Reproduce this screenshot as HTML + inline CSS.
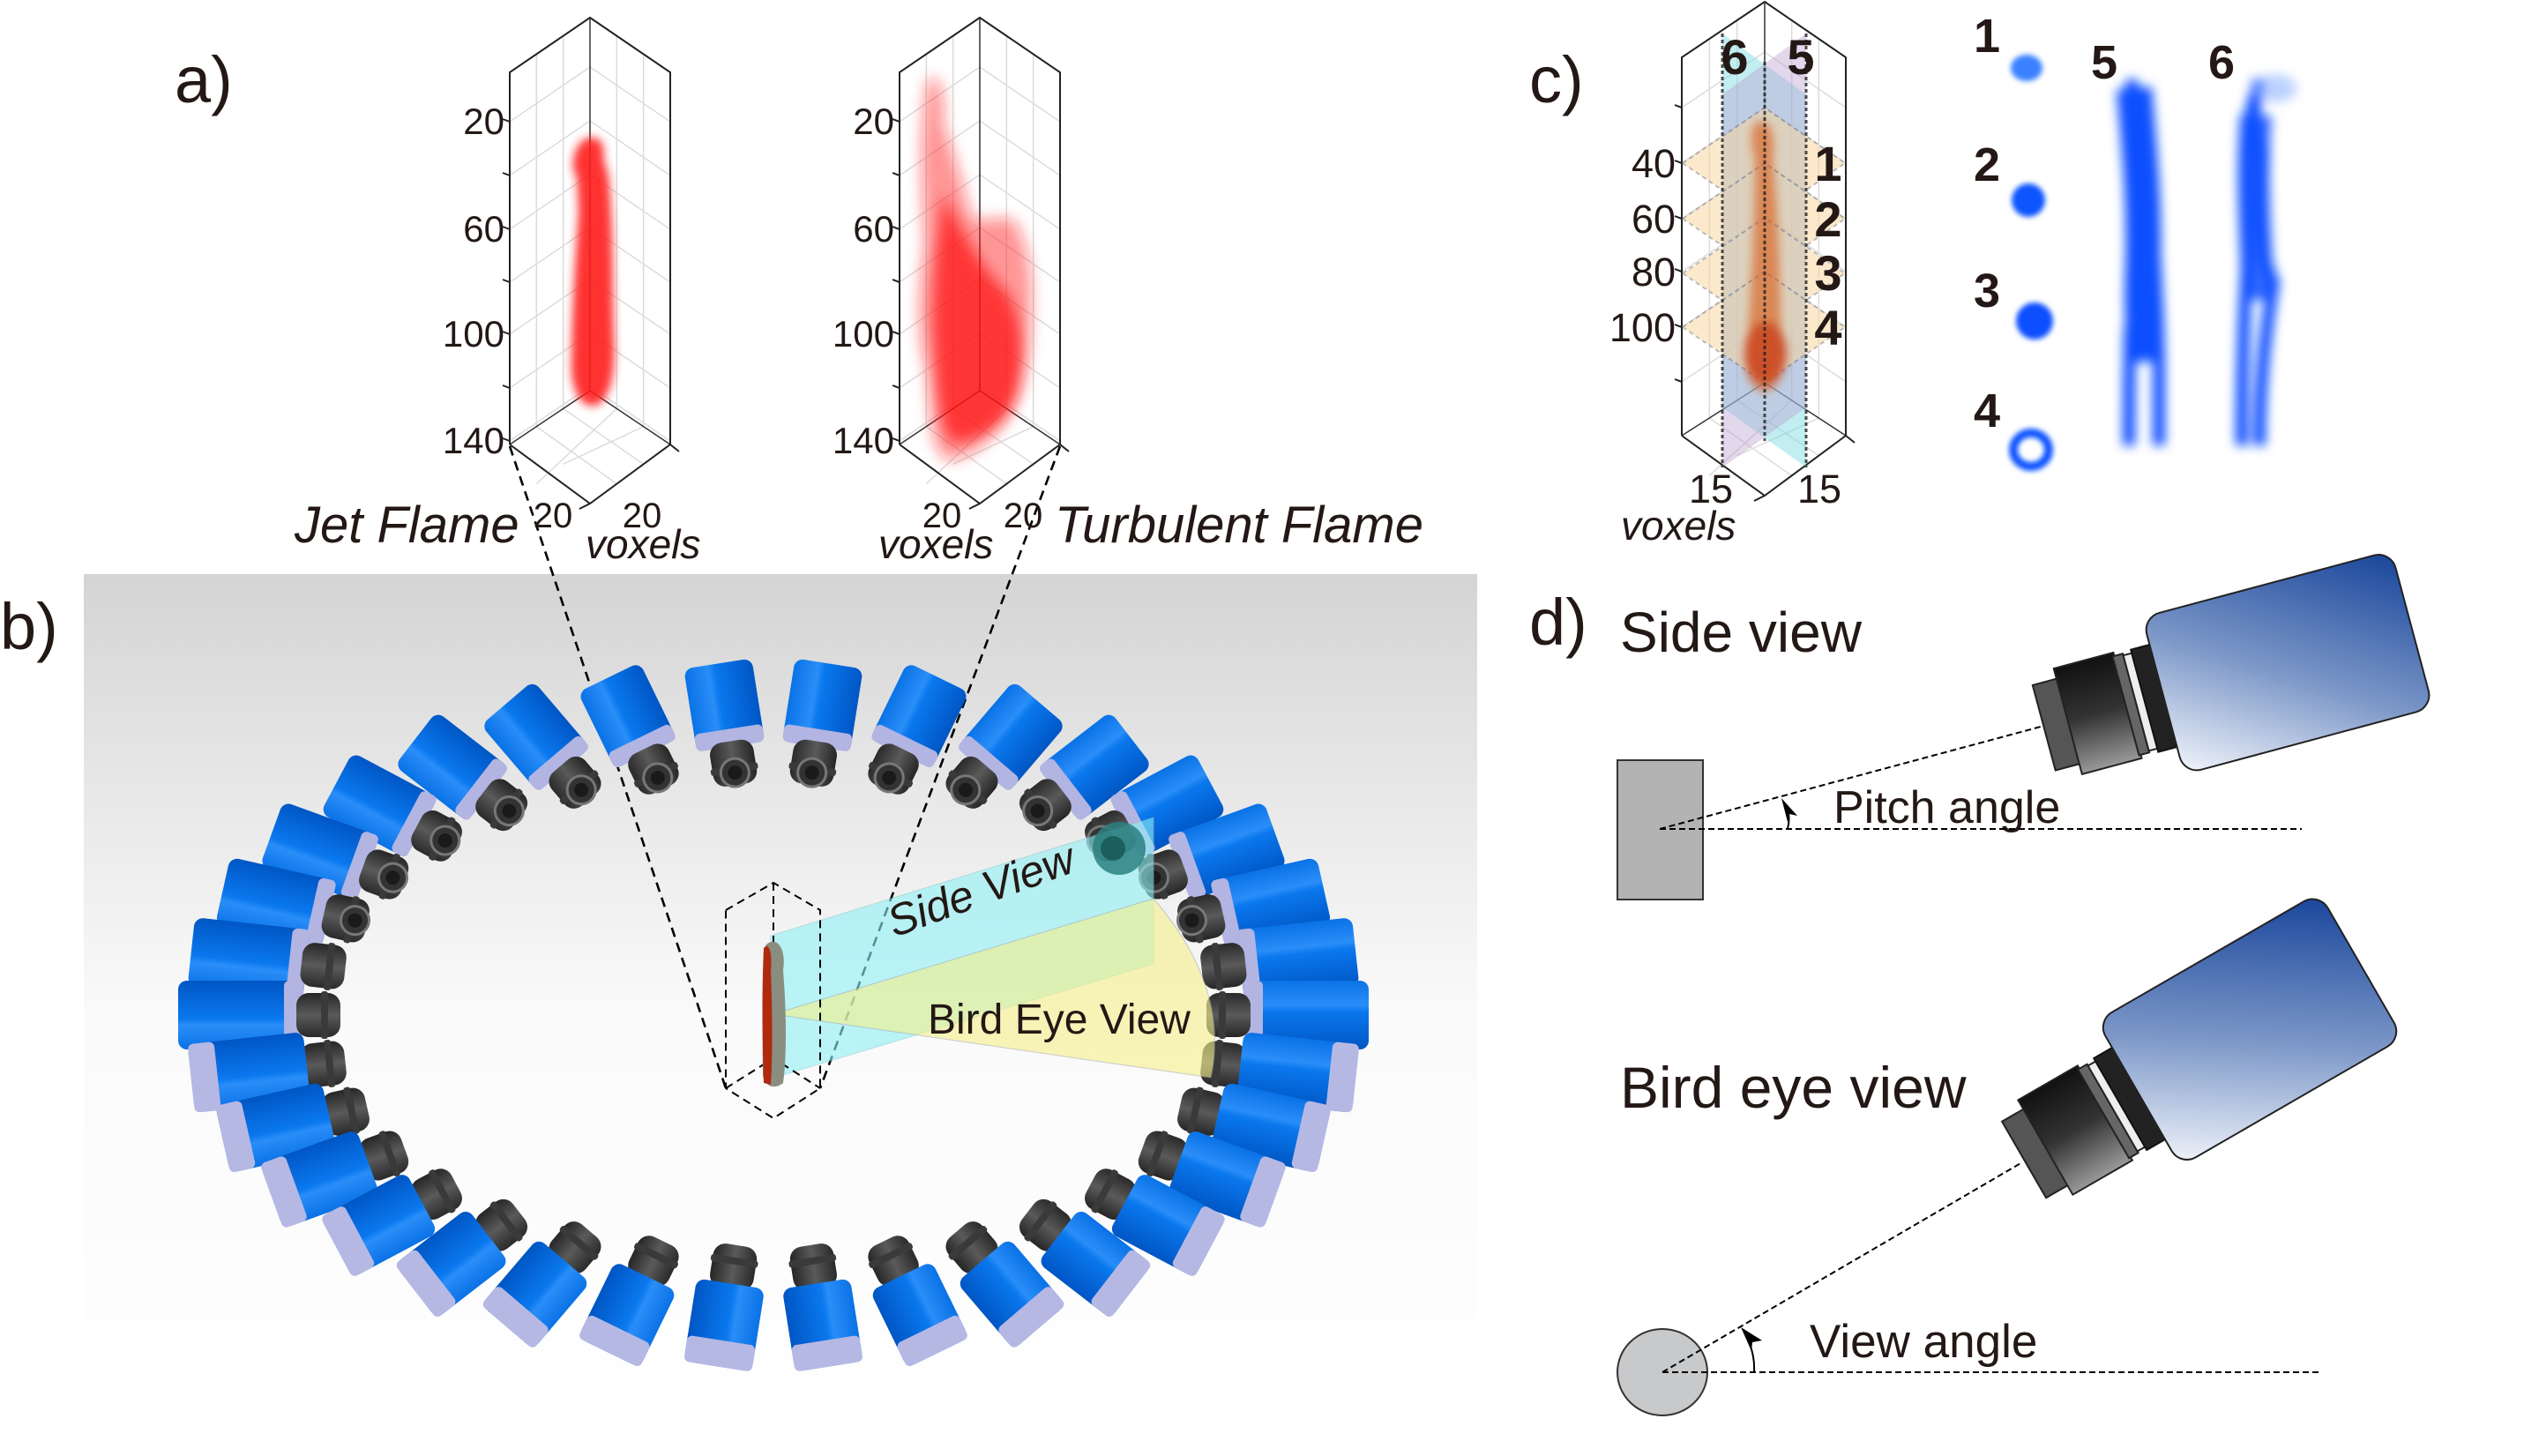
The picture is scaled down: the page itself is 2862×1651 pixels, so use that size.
<!DOCTYPE html>
<html><head><meta charset="utf-8">
<style>
html,body{margin:0;padding:0;background:#fff;}
svg{display:block;}
text{font-family:"Liberation Sans",Arial,sans-serif;fill:#231815;}
</style></head>
<body>
<svg id="s" xmlns="http://www.w3.org/2000/svg" width="2862" height="1651" viewBox="0 0 2862 1651">
<defs>
<linearGradient id="bg" x1="0" y1="0" x2="0" y2="1">
<stop offset="0" stop-color="#d4d4d4"/><stop offset="0.25" stop-color="#e8e8e8"/><stop offset="0.5" stop-color="#fafafa"/><stop offset="1" stop-color="#ffffff"/>
</linearGradient>
<linearGradient id="camG" x1="0" y1="0" x2="0" y2="1">
<stop offset="0" stop-color="#0a72e6"/><stop offset="0.35" stop-color="#2a8ef8"/><stop offset="0.45" stop-color="#0a78ee"/><stop offset="1" stop-color="#0056c4"/>
</linearGradient>
<linearGradient id="lensG" x1="0" y1="0" x2="0" y2="1">
<stop offset="0" stop-color="#2a2a2a"/><stop offset="0.5" stop-color="#5a5a5a"/><stop offset="1" stop-color="#262626"/>
</linearGradient>
<linearGradient id="bodyD" x1="0" y1="1" x2="1" y2="0">
<stop offset="0" stop-color="#f2f5fb"/><stop offset="0.45" stop-color="#7d98c8"/><stop offset="1" stop-color="#17449a"/>
</linearGradient>
<linearGradient id="barrel" x1="0" y1="0" x2="0" y2="1">
<stop offset="0" stop-color="#111"/><stop offset="0.5" stop-color="#333"/><stop offset="1" stop-color="#999"/>
</linearGradient>
<filter id="blur4" x="-50%" y="-50%" width="200%" height="200%"><feGaussianBlur stdDeviation="5"/></filter>
<filter id="blur6" x="-50%" y="-50%" width="200%" height="200%"><feGaussianBlur stdDeviation="6"/></filter>
<filter id="blur8" x="-50%" y="-50%" width="200%" height="200%"><feGaussianBlur stdDeviation="8"/></filter>
<filter id="blur3" x="-50%" y="-50%" width="200%" height="200%"><feGaussianBlur stdDeviation="3"/></filter>
</defs>

<rect x="95" y="651" width="1580" height="1000" fill="url(#bg)"/>

<g id="boxes"></g>

<g filter="url(#blur4)" fill="#ff1a1a" opacity="0.9">
<path d="M660,160 C672,150 688,158 684,178 L690,200 C696,260 694,320 696,380 C698,420 694,450 676,460 C660,462 650,448 648,420 C648,360 652,300 656,240 L654,200 C646,190 650,170 660,160Z"/>
</g>
<g filter="url(#blur8)" fill="#ff1010">
<path opacity="0.45" d="M1052,90 C1066,80 1072,110 1070,140 C1080,170 1090,200 1100,240 C1110,260 1130,240 1150,250 C1170,280 1172,330 1168,380 C1166,430 1150,470 1130,490 C1110,510 1090,525 1070,520 C1052,500 1056,460 1050,420 C1040,380 1040,330 1048,280 C1046,220 1040,160 1052,90Z"/>
<path opacity="0.7" d="M1070,220 C1090,260 1110,300 1140,330 C1162,360 1164,420 1150,460 C1130,490 1100,505 1078,500 C1060,470 1062,420 1058,370 C1058,320 1062,270 1070,220Z"/>
</g>

<g stroke="#000" stroke-width="2.6" stroke-dasharray="11 7" fill="none">
<path d="M578,506 L823,1234"/>
<path d="M1202,506 L930,1234"/>
</g>

<g id="cams"></g>

<polygon points="874,1061 1308,927 1308,1093 874,1223" fill="#8ff0f5" opacity="0.6" stroke="#8cc" stroke-width="1"/>
<path d="M877,1150 L1308,1019 Q1395,1120 1373,1222 Z" fill="#f6f08a" opacity="0.6" stroke="#aaa" stroke-width="1"/>
<circle cx="1269" cy="962" r="30" fill="#2c8080" opacity="0.85"/>
<circle cx="1262" cy="962" r="14" fill="#1d5f5f"/>

<g stroke="#000" stroke-width="2" stroke-dasharray="9 6" fill="none">
<path d="M823,1032 L877,1001 L930,1032 L930,1234 L877,1268 L823,1234 Z"/>
<path d="M877,1001 L877,1200"/>
<path d="M823,1234 L877,1200 L930,1234"/>
</g>
<path d="M868,1072 C880,1060 892,1075 888,1100 C892,1150 892,1200 888,1228 C878,1236 868,1232 865,1220 C864,1170 866,1120 868,1072Z" fill="#8a8e80"/>
<path d="M866,1075 C872,1068 876,1080 874,1100 C876,1150 876,1200 874,1230 L866,1228 C864,1170 864,1120 866,1075Z" fill="#b02a10"/>

<text x="1014" y="1063" font-size="50" font-style="italic" transform="rotate(-20 1014 1063)" fill="#000">Side View</text>
<text x="1052" y="1172" font-size="48" fill="#000">Bird Eye View</text>

<text x="198" y="116" font-size="74">a)</text>
<text x="0" y="736" font-size="74">b)</text>
<text x="1734" y="116" font-size="74">c)</text>
<text x="1734" y="731" font-size="74">d)</text>

<text x="334" y="615" font-size="58" font-style="italic">Jet Flame</text>
<text x="1196" y="615" font-size="58" font-style="italic">Turbulent Flame</text>
<text x="627" y="598" font-size="40" text-anchor="middle">20</text>
<text x="728" y="598" font-size="40" text-anchor="middle">20</text>
<text x="664" y="633" font-size="46" font-style="italic">voxels</text>
<text x="1068" y="598" font-size="40" text-anchor="middle">20</text>
<text x="1160" y="598" font-size="40" text-anchor="middle">20</text>
<text x="996" y="633" font-size="46" font-style="italic">voxels</text>

<polygon points="1953,38 2048,107 2048,530 1953,462" fill="#78dadf" opacity="0.45"/>
<polygon points="1953,107 2048,38 2048,462 1953,530" fill="#b89ad0" opacity="0.4"/>
<g fill="#fbd59a" opacity="0.5" stroke="#777" stroke-width="2" stroke-dasharray="5 4">
<polygon points="1908,185 2001,122 2092,185 2001,248"/>
<polygon points="1908,248 2001,185 2092,248 2001,311"/>
<polygon points="1908,310 2001,247 2092,310 2001,373"/>
<polygon points="1908,371 2001,308 2092,371 2001,434"/>
</g>
<g filter="url(#blur4)">
<path d="M1990,140 C2005,130 2015,150 2010,180 C2018,250 2018,330 2020,380 C2030,410 2020,440 2000,445 C1980,440 1975,410 1982,380 C1986,320 1990,250 1990,180 C1985,165 1984,150 1990,140Z" fill="#d86020" opacity="0.65"/>
<ellipse cx="2002" cy="400" rx="24" ry="35" fill="#c83818" opacity="0.7"/>
</g>
<g stroke="#222" stroke-width="3" stroke-dasharray="4 3" fill="none" opacity="0.8">
<path d="M1953,38 L1953,530 M2001,70 L2001,500 M2048,38 L2048,530"/>
</g>
<g font-size="45">
<text x="1900" y="201" text-anchor="end">40</text>
<text x="1900" y="264" text-anchor="end">60</text>
<text x="1900" y="324" text-anchor="end">80</text>
<text x="1900" y="387" text-anchor="end">100</text>
<text x="1940" y="570" text-anchor="middle">15</text>
<text x="2063" y="570" text-anchor="middle">15</text>
</g>
<text x="1838" y="612" font-size="46" font-style="italic">voxels</text>
<g font-size="56" font-weight="bold">
<text x="2073" y="205" text-anchor="middle" fill="#000">1</text>
<text x="2073" y="268" text-anchor="middle" fill="#000">2</text>
<text x="2073" y="329" text-anchor="middle" fill="#000">3</text>
<text x="2073" y="391" text-anchor="middle" fill="#000">4</text>
<text x="1967" y="84" text-anchor="middle" fill="#000">6</text>
<text x="2042" y="84" text-anchor="middle" fill="#000">5</text>
</g>

<g font-size="54" font-weight="bold">
<text x="2253" y="59" text-anchor="middle" fill="#000">1</text>
<text x="2253" y="205" text-anchor="middle" fill="#000">2</text>
<text x="2253" y="348" text-anchor="middle" fill="#000">3</text>
<text x="2253" y="484" text-anchor="middle" fill="#000">4</text>
<text x="2386" y="89" text-anchor="middle" fill="#000">5</text>
<text x="2519" y="89" text-anchor="middle" fill="#000">6</text>
</g>
<g filter="url(#blur3)">
<ellipse cx="2298" cy="77" rx="18" ry="15" fill="#1a6bff" opacity="0.85"/>
<circle cx="2300" cy="227" r="19" fill="#0a55ff"/>
<circle cx="2307" cy="364" r="21" fill="#0a50ff"/>
<ellipse cx="2303" cy="510" rx="20" ry="19" fill="none" stroke="#0a55ff" stroke-width="10"/>
</g>
<g filter="url(#blur6)" fill="none" stroke-linecap="butt">
<path d="M2417,90 C2420,140 2432,190 2433,250 C2432,300 2420,330 2415,380 C2414,440 2414,480 2414,505" stroke="#0a50ff" stroke-width="14"/>
<path d="M2422,110 C2430,170 2440,220 2442,260 C2444,310 2448,360 2448,420 C2448,470 2448,490 2448,505" stroke="#0a50ff" stroke-width="14"/>
<path d="M2420,100 C2426,170 2432,230 2430,300 C2428,340 2430,370 2432,410" stroke="#0a50ff" stroke-width="40"/>
<path d="M2562,90 C2552,130 2556,160 2566,175 C2560,230 2562,290 2578,320 C2568,380 2562,440 2562,505" stroke="#0a50ff" stroke-width="14"/>
<path d="M2556,110 C2545,170 2546,240 2548,300 C2545,350 2542,420 2542,505" stroke="#0a50ff" stroke-width="14"/>
<path d="M2558,130 C2552,200 2558,260 2560,340" stroke="#0a50ff" stroke-width="36" opacity="0.85"/>
<ellipse cx="2580" cy="100" rx="24" ry="16" fill="#8fb4ff" stroke="none" opacity="0.6"/>
</g>

<text x="1837" y="739" font-size="64">Side view</text>
<text x="1837" y="1256" font-size="66">Bird eye view</text>
<text x="2079" y="933" font-size="52">Pitch angle</text>
<text x="2052" y="1539" font-size="53">View angle</text>
<rect x="1834" y="862" width="97" height="158" fill="#b3b3b3" stroke="#333" stroke-width="2"/>
<ellipse cx="1885" cy="1556" rx="51" ry="49" fill="#c8c9cb" stroke="#333" stroke-width="2"/>
<g stroke="#000" stroke-width="2" stroke-dasharray="7 4" fill="none">
<path d="M1882,940 L2610,940"/>
<path d="M1882,940 L2314,824"/>
<path d="M1885,1556 L2630,1556"/>
<path d="M1885,1556 L2293,1318"/>
</g>
<path d="M2027,940 Q2030,928 2027,917" stroke="#000" stroke-width="2" fill="none"/>
<path d="M2020,905 L2038,925 L2029,923 L2027,932 Z" fill="#000"/>
<path d="M1989,1556 Q1990,1536 1982,1520" stroke="#000" stroke-width="2" fill="none"/>
<path d="M1974,1505 L1998,1520 L1987,1522 L1986,1532 Z" fill="#000"/>

<g transform="translate(2453,789) rotate(-15)">
<rect x="-140" y="-50" width="32" height="100" fill="#555" stroke="#222" stroke-width="2"/>
<rect x="-112" y="-62" width="70" height="124" fill="url(#barrel)" stroke="#222" stroke-width="2"/>
<rect x="-44" y="-58" width="12" height="116" fill="#666" stroke="#222" stroke-width="2"/>
<rect x="-32" y="-56" width="10" height="112" fill="#eee" stroke="#222" stroke-width="2"/>
<rect x="-22" y="-60" width="26" height="120" fill="#222" stroke="#111" stroke-width="2"/>
<rect x="0" y="-92" width="292" height="184" rx="20" fill="url(#bodyD)" stroke="#222" stroke-width="2"/>
</g>
<g transform="translate(2425,1240) rotate(-30)">
<rect x="-150" y="-50" width="32" height="100" fill="#555" stroke="#222" stroke-width="2"/>
<rect x="-122" y="-62" width="78" height="124" fill="url(#barrel)" stroke="#222" stroke-width="2"/>
<rect x="-46" y="-58" width="12" height="116" fill="#666" stroke="#222" stroke-width="2"/>
<rect x="-34" y="-56" width="10" height="112" fill="#eee" stroke="#222" stroke-width="2"/>
<rect x="-24" y="-60" width="26" height="120" fill="#222" stroke="#111" stroke-width="2"/>
<rect x="0" y="-95" width="291" height="190" rx="20" fill="url(#bodyD)" stroke="#222" stroke-width="2"/>
</g>
</svg>
<script>
(function(){
function box(L,M,R,apex,rise,bot,front,back,ticks,sub){
 var s="";
 var g='stroke="#dcdcdc" stroke-width="1.5" fill="none"';
 var top=apex+rise;
 for(var i=1;i<sub;i++){
  var xl=L+(M-L)*i/sub, yl=top-(rise)*i/sub;
  s+='<path '+g+' d="M'+xl+','+yl+' L'+xl+','+(bot-(bot-back)*i/sub)+'"/>';
  var xr=M+(R-M)*i/sub, yr=apex+rise*i/sub;
  s+='<path '+g+' d="M'+xr+','+yr+' L'+xr+','+(back+(bot-back)*i/sub)+'"/>';
  s+='<path '+g+' d="M'+(L+(M-L)*i/sub)+','+(bot-(bot-back)*i/sub)+' L'+(M+(R-M)*i/sub)+','+(front-(front-bot)*i/sub)+'"/>';
  s+='<path '+g+' d="M'+(M+(R-M)*i/sub)+','+(back+(bot-back)*i/sub)+' L'+(L+(M-L)*i/sub)+','+(front-(front-bot)*i/sub)+'"/>';
 }
 ticks.forEach(function(t){
  var y=t[0];
  s+='<path '+g+' d="M'+L+','+y+' L'+M+','+(y-rise)+' L'+R+','+y+'"/>';
  s+='<path stroke="#222" stroke-width="2" d="M'+(L-8)+','+(y-3)+' L'+L+','+y+'"/>';
  if(t[1]) s+='<text x="'+(L-6)+'" y="'+(y+14)+'" font-size="42" text-anchor="end">'+t[1]+'</text>';
 });
 var k='stroke="#222" stroke-width="2" fill="none"';
 s+='<path '+k+' d="M'+L+','+bot+' L'+L+','+top+' L'+M+','+apex+' L'+R+','+top+' L'+R+','+bot+'"/>';
 s+='<path stroke="#333" stroke-width="1.5" fill="none" d="M'+M+','+apex+' L'+M+','+back+' L'+L+','+bot+' M'+M+','+back+' L'+R+','+bot+'"/>';
 s+='<path '+k+' d="M'+L+','+bot+' L'+M+','+front+' L'+R+','+bot+' M'+R+','+bot+' l10,8 M'+M+','+front+' l-12,6"/>';
 return s;
}
var b="";
b+=box(578,669,760,20,62,504,571,443,[[138,"20"],[199,""],[260,"60"],[320,""],[379,"100"],[440,""],[500,"140"]],3);
b+=box(1020,1111,1202,20,62,504,571,443,[[138,"20"],[199,""],[260,"60"],[320,""],[379,"100"],[440,""],[500,"140"]],3);
b+=box(1907,2001,2093,2,63,494,562,434,[[122,""],[185,""],[248,""],[308,""],[371,""],[433,""]],3);
document.getElementById("boxes").innerHTML=b;

var cx=877,cy=1151,rx=605,ry=353,N=34,arr=[];
for(var k=0;k<N;k++){
 var th=-Math.PI/2+(k+0.5)*2*Math.PI/N;
 var c=Math.cos(th),sn=Math.sin(th);
 arr.push({x:cx+rx*c,y:cy+ry*sn,s:sn,a:Math.atan2(ry*sn,rx*c)*180/Math.PI});
}
arr.sort(function(p,q){return p.y-q.y;});
var h="";
arr.forEach(function(p){
 var L=140-45*Math.abs(p.s), W=78, hl=-L/2;
 var lens='<rect x="'+(hl-44)+'" y="-25" width="50" height="50" rx="14" fill="url(#lensG)"/>'+
  '<rect x="'+(hl-30)+'" y="-27" width="8" height="54" rx="3" fill="#3a3a3a"/>';
 if(p.s<-0.2) lens+='<circle cx="'+(hl-30)+'" cy="0" r="16" fill="#333" stroke="#777" stroke-width="3"/><circle cx="'+(hl-30)+'" cy="0" r="8" fill="#1a1a1a"/>';
 var body='<rect x="'+hl+'" y="'+(-W/2)+'" width="'+L+'" height="'+W+'" rx="10" fill="url(#camG)"/>';
 var band=p.s<=0.1? '<rect x="'+hl+'" y="'+(-W/2)+'" width="20" height="'+W+'" rx="6" fill="#b2b4e2"/>'
  : '<rect x="'+(L/2-30)+'" y="'+(-W/2)+'" width="30" height="'+W+'" rx="6" fill="#b6b8e4"/>';
 h+='<g transform="translate('+p.x.toFixed(1)+','+p.y.toFixed(1)+') rotate('+p.a.toFixed(1)+')">'+
  (p.s>0.1? lens+body+band : body+band+lens)+'</g>';
});
document.getElementById("cams").innerHTML=h;
})();
</script>
</body></html>
